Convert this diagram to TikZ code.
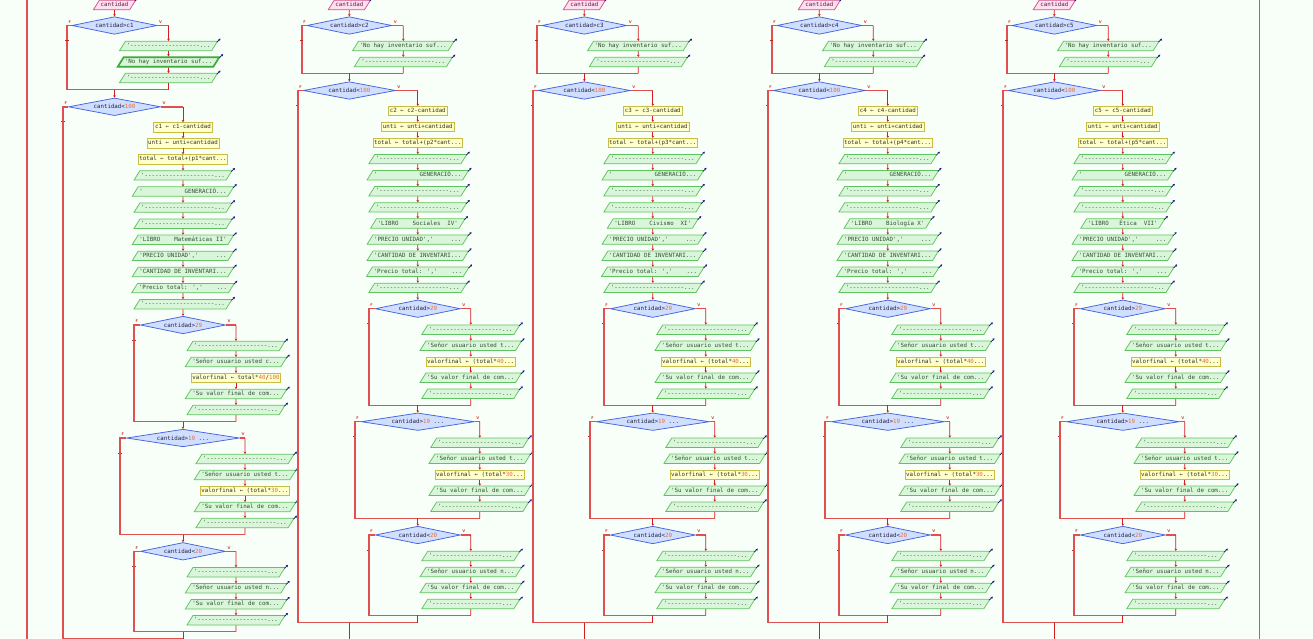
\documentclass[tikz,border=0pt]{standalone}
\usepackage{fontspec}
\setmonofont{DejaVu Sans Mono}
\newfontfamily\djm{DejaVu Sans Mono}
\usetikzlibrary{shapes.geometric,arrows.meta}
\definecolor{bg}{RGB}{248,255,248}
\definecolor{outf}{RGB}{218,246,218}
\definecolor{outd}{RGB}{95,195,95}
\definecolor{outdk}{RGB}{60,170,60}
\definecolor{outt}{RGB}{45,80,45}
\definecolor{inf}{RGB}{255,224,240}
\definecolor{ind}{RGB}{210,80,140}
\definecolor{intx}{RGB}{90,30,60}
\definecolor{asf}{RGB}{255,255,205}
\definecolor{asd}{RGB}{200,190,70}
\definecolor{ast}{RGB}{50,50,35}
\definecolor{df}{RGB}{208,222,255}
\definecolor{dd}{RGB}{70,100,220}
\definecolor{dt}{RGB}{35,35,65}
\definecolor{lc}{RGB}{210,30,30}
\definecolor{ls}{RGB}{225,80,80}
\definecolor{num}{RGB}{230,110,60}
\definecolor{navy}{RGB}{20,20,120}
\newcommand\mfs{\ttfamily\fontsize{5.8}{6}\selectfont}
\newcommand\q{\char"27\relax}
\newcommand\la{{\djm\char"2190}}
\newcommand\dsh{-{}-{}-{}-{}-{}-{}-{}-{}-{}-{}-{}-{}-{}-{}-{}-{}-{}-{}-{}-}
\newcommand\nm[1]{\textcolor{num}{#1}}
\tikzset{
 box/.style={font=\mfs, line width=0.75pt, inner xsep=1.2pt, inner ysep=1.7pt, text height=4.6pt, text depth=1.4pt},
 outp/.style={box, trapezium, trapezium left angle=58, trapezium right angle=122, draw=outd, fill=outf, text=outt},
 inp/.style={outp, draw=ind, fill=inf, text=intx},
 asg/.style={box, rectangle, draw=asd, fill=asf, text=ast},
 dec/.style={diamond, draw=dd, fill=df, line width=0.75pt, text=dt, inner sep=0pt, aspect=4.8, minimum height=17.6pt, font=\mfs},
 conn/.style={draw=lc, line width=0.8pt},
 struct/.style={draw=ls, line width=1.5pt},
 tip/.style={-{Stealth[length=2.2pt,width=2.6pt]}},
 lab/.style={font=\sffamily\bfseries\fontsize{4}{4}\selectfont, text=lc, inner sep=0pt},
}
\newcommand\narr[1]{\draw[navy, line width=0.7pt, -{Stealth[length=2.2pt,width=2.4pt]}] ([xshift=-1.2pt,yshift=-1.2pt]#1.top right corner) -- ([xshift=2.3pt,yshift=2.3pt]#1.top right corner);}
\newcommand\mkout[3]{\node[outp] (#1) at (#2) {#3}; \narr{#1}}
\newcommand\mkoutx[3]{\node[outp, line width=1.7pt, draw=outdk] (#1) at (#2) {#3}; \narr{#1}}
\newcommand\mkasg[3]{\node[asg] (#1) at (#2) {#3};}
\newcommand\FV[2]{\node[lab] at ([xshift=2.8pt,yshift=3.6pt]#2) {F}; \node[lab] at ([xshift=3.2pt,yshift=3.6pt]#1.east) {V};
 \draw[conn] ([xshift=-1.6pt,yshift=-15pt]#2) -- ([xshift=1.6pt,yshift=-15pt]#2);}
% #1 id #2 cx #3 k #4 shift #5 libro #6 letter #7 asg29 #8 three-first
\newcommand\Col[8]{%
\pgfmathsetmacro\Xc{#2}%
\pgfmathsetmacro\Xta{#2+54}%
\pgfmathsetmacro\Xfa{#2-47.5}%
\pgfmathsetmacro\Xtb{#2+68.5}%
\pgfmathsetmacro\Xfb{#2-51.5}%
\pgfmathsetmacro\Xtc{#2+121.5}%
\pgfmathsetmacro\Xfc{#2+19.5}%
\pgfmathsetmacro\Xtd{#2+130.5}%
\pgfmathsetmacro\Xfd{#2+5.5}%
\pgfmathsetmacro\Ysh{#4}%
\node[inp] (#1in) at (\Xc,5) {cantidad}; \narr{#1in}
\node[dec, minimum width=85pt] (#1d1) at (\Xc,25.5) {cantidad>c#3};
\draw[conn,tip] (#1in) -- (#1d1);
\ifnum#8=1
 \mkout{#1a1}{\Xta,46}{\q\dsh...}
 \mkoutx{#1a2}{\Xta,62}{\q No hay inventario suf...}
 \mkout{#1a3}{\Xta,78}{\q\dsh...}
 \draw[conn,tip] (#1a1) -- (#1a2); \draw[conn,tip] (#1a2) -- (#1a3);
 \coordinate (#1al) at (#1a3.south);
\else
 \mkout{#1a1}{\Xta,46}{\q No hay inventario suf...}
 \mkout{#1a2}{\Xta,62}{\q\dsh...}
 \draw[conn,tip] (#1a1) -- (#1a2);
 \coordinate (#1al) at (#1a2.south);
\fi
\coordinate (#1d1F) at (\Xfa,25.5);
\coordinate (#1d1T) at (\Xta,25.5);
\coordinate (#1m1) at (\Xc,{73.3+\Ysh});
\coordinate (#1m1F) at (\Xfa,{73.3+\Ysh});
\coordinate (#1m1T) at (\Xta,{73.3+\Ysh});
\draw[struct] (#1d1.west) -- (#1d1F) -- (#1m1F) -- (#1m1T);
\draw[struct] (#1d1.east) -- (#1d1T);
\draw[conn,tip] (#1d1T) -- (#1a1.north);
\draw[conn] (#1al) -- (#1m1T);
\FV{#1d1}{#1d1F}
% second decision
\node[dec, minimum width=92pt] (#1d2) at (\Xc,{90.5+\Ysh}) {cantidad<\nm{100}};
\draw[conn,tip] (#1m1) -- (#1d2.north);
\coordinate (#1d2F) at (\Xfb,{90.5+\Ysh});
\coordinate (#1d2T) at (\Xtb,{90.5+\Ysh});
\FV{#1d2}{#1d2F}
\mkasg{#1b1}{\Xtb,{111+\Ysh}}{c#3 \la\ c#3-cantidad}
\mkasg{#1b2}{\Xtb,{127+\Ysh}}{unti \la\ unti+cantidad}
\mkasg{#1b3}{\Xtb,{143+\Ysh}}{total \la\ total+(p#3*cant...}
\mkout{#1b4}{\Xtb,{159.1+\Ysh}}{\q\dsh...}
\mkout{#1b5}{\Xtb,{175.2+\Ysh}}{\q\phantom{000000000000}GENERACIÓ...}
\mkout{#1b6}{\Xtb,{191.3+\Ysh}}{\q\dsh...}
\mkout{#1b7}{\Xtb,{207.4+\Ysh}}{\q\dsh...}
\mkout{#1b8}{\Xtb,{223.5+\Ysh}}{#5}
\mkout{#1b9}{\Xtb,{239.6+\Ysh}}{\q PRECIO UNIDAD\q,\q\phantom{00000}...}
\mkout{#1b10}{\Xtb,{255.7+\Ysh}}{\q CANTIDAD DE INVENTARI...}
\mkout{#1b11}{\Xtb,{271.8+\Ysh}}{\q Precio total: \q,\q\phantom{0000}...}
\mkout{#1b12}{\Xtb,{287.9+\Ysh}}{\q\dsh...}
\draw[struct] (#1d2.east) -- (#1d2T);
\draw[conn,tip] (#1d2T) -- (#1b1.north);
\foreach \i/\j in {1/2,2/3,3/4,4/5,5/6,6/7,7/8,8/9,9/10,10/11,11/12} {\draw[conn,tip] (#1b\i) -- (#1b\j);}
% if 29
\node[dec, minimum width=85pt] (#1d3) at (\Xtb,{308.7+\Ysh}) {cantidad>\nm{29}};
\draw[conn,tip] (#1b12) -- (#1d3);
\coordinate (#1d3F) at (\Xfc,{308.7+\Ysh});
\coordinate (#1d3T) at (\Xtc,{308.7+\Ysh});
\FV{#1d3}{#1d3F}
\mkout{#1c1}{\Xtc,{329.7+\Ysh}}{\q\dsh...}
\mkout{#1c2}{\Xtc,{345.7+\Ysh}}{\q Señor usuario usted #6...}
\mkasg{#1c3}{\Xtc,{361.7+\Ysh}}{#7}
\mkout{#1c4}{\Xtc,{377.7+\Ysh}}{\q Su valor final de com...}
\mkout{#1c5}{\Xtc,{393.7+\Ysh}}{\q\dsh...}
\foreach \i/\j in {1/2,2/3,3/4,4/5} {\draw[conn,tip] (#1c\i) -- (#1c\j);}
\coordinate (#1m3) at (\Xtb,{405.3+\Ysh});
\coordinate (#1m3F) at (\Xfc,{405.3+\Ysh});
\coordinate (#1m3T) at (\Xtc,{405.3+\Ysh});
\draw[struct] (#1d3.west) -- (#1d3F) -- (#1m3F) -- (#1m3T);
\draw[struct] (#1d3.east) -- (#1d3T);
\draw[conn,tip] (#1d3T) -- (#1c1.north);
\draw[conn] (#1c5) -- (#1m3T);
% if 19
\node[dec, minimum width=113pt] (#1d4) at (\Xtb,{421.7+\Ysh}) {cantidad>\nm{19} ...};
\draw[conn,tip] (#1m3) -- (#1d4.north);
\coordinate (#1d4F) at (\Xfd,{421.7+\Ysh});
\coordinate (#1d4T) at (\Xtd,{421.7+\Ysh});
\FV{#1d4}{#1d4F}
\mkout{#1e1}{\Xtd,{442.7+\Ysh}}{\q\dsh...}
\mkout{#1e2}{\Xtd,{458.7+\Ysh}}{\q Señor usuario usted t...}
\mkasg{#1e3}{\Xtd,{474.7+\Ysh}}{valorfinal \la\ (total*\nm{30}...}
\mkout{#1e4}{\Xtd,{490.7+\Ysh}}{\q Su valor final de com...}
\mkout{#1e5}{\Xtd,{506.7+\Ysh}}{\q\dsh...}
\foreach \i/\j in {1/2,2/3,3/4,4/5} {\draw[conn,tip] (#1e\i) -- (#1e\j);}
\coordinate (#1m4) at (\Xtb,{518.3+\Ysh});
\coordinate (#1m4F) at (\Xfd,{518.3+\Ysh});
\coordinate (#1m4T) at (\Xtd,{518.3+\Ysh});
\draw[struct] (#1d4.west) -- (#1d4F) -- (#1m4F) -- (#1m4T);
\draw[struct] (#1d4.east) -- (#1d4T);
\draw[conn,tip] (#1d4T) -- (#1e1.north);
\draw[conn] (#1e5) -- (#1m4T);
% if 20
\node[dec, minimum width=85pt] (#1d5) at (\Xtb,{535+\Ysh}) {cantidad<\nm{20}};
\draw[conn,tip] (#1m4) -- (#1d5.north);
\coordinate (#1d5F) at (\Xfc,{535+\Ysh});
\coordinate (#1d5T) at (\Xtc,{535+\Ysh});
\FV{#1d5}{#1d5F}
\mkout{#1f1}{\Xtc,{556+\Ysh}}{\q\dsh...}
\mkout{#1f2}{\Xtc,{572+\Ysh}}{\q Señor usuario usted n...}
\mkout{#1f3}{\Xtc,{588+\Ysh}}{\q Su valor final de com...}
\mkout{#1f4}{\Xtc,{604+\Ysh}}{\q\dsh...}
\foreach \i/\j in {1/2,2/3,3/4} {\draw[conn,tip] (#1f\i) -- (#1f\j);}
\coordinate (#1m5) at (\Xtb,{615.3+\Ysh});
\coordinate (#1m5F) at (\Xfc,{615.3+\Ysh});
\coordinate (#1m5T) at (\Xtc,{615.3+\Ysh});
\draw[struct] (#1d5.west) -- (#1d5F) -- (#1m5F) -- (#1m5T);
\draw[struct] (#1d5.east) -- (#1d5T);
\draw[conn,tip] (#1d5T) -- (#1f1.north);
\draw[conn] (#1f4) -- (#1m5T);
% outer merge
\coordinate (#1m) at (\Xc,{622.7+\Ysh});
\coordinate (#1mF) at (\Xfb,{622.7+\Ysh});
\coordinate (#1mT) at (\Xtb,{622.7+\Ysh});
\coordinate (#1end) at (\Xc,700);
\draw[struct] (#1d2.west) -- (#1d2F) -- (#1mF) -- (#1mT);
\draw[conn] (#1m5) -- (#1mT);
\draw[conn] (#1m) -- (#1end);
}
\begin{document}
\begin{tikzpicture}[x=1pt,y=-1pt]
\useasboundingbox (0,0) rectangle (1313,638);
\fill[bg] (0,0) rectangle (1313,638);
\begin{scope}
\clip (0,0) rectangle (1313,638);
\coordinate (Lt) at (27,-10); \coordinate (Lb) at (27,650);
\coordinate (Rt) at (1259.5,-10); \coordinate (Rb) at (1259.5,650);
\draw[struct] (Lt) -- (Lb);
\draw[struct] (Rt) -- (Rb);
\Col{c1}{114.5}{1}{16.3}{\q LIBRO\phantom{0000}Matemáticas II\q}{c}{valorfinal \la\ total*\nm{40}/\nm{100}}{1}
\Col{c2}{349.3}{2}{0}{\q LIBRO\phantom{0000}Sociales\phantom{00}IV\q}{t}{valorfinal \la\ (total*\nm{40}...}{0}
\Col{c3}{584.3}{3}{0}{\q LIBRO\phantom{0000}Civismo\phantom{00}XI\q}{t}{valorfinal \la\ (total*\nm{40}...}{0}
\Col{c4}{819.3}{4}{0}{\q LIBRO\phantom{0000}Biología X\q}{t}{valorfinal \la\ (total*\nm{40}...}{0}
\Col{c5}{1054.3}{5}{0}{\q LIBRO\phantom{000}Ética\phantom{00}VII\q}{t}{valorfinal \la\ (total*\nm{40}...}{0}
\end{scope}
\end{tikzpicture}
\end{document}
